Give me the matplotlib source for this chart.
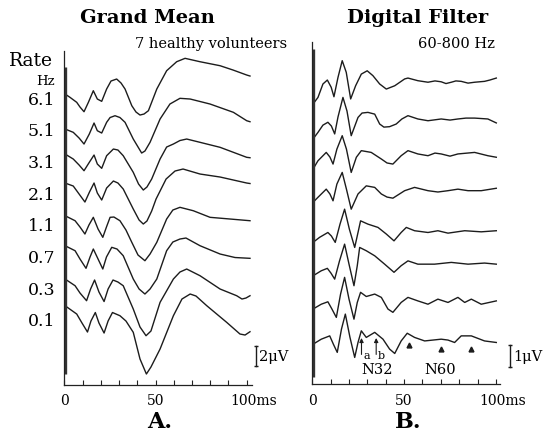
import matplotlib.pyplot as plt
import numpy as np

plt.rcParams['font.family'] = ['DejaVu Serif']

# ---- A. Grand mean, 7 healthy volunteers: (ms, uV) pairs per stimulus rate ----
rates = ['6.1', '5.1', '3.1', '2.1', '1.1', '0.7', '0.3', '0.1']

gm_61 = [(0.4, 0.0), (3.1, -0.33), (6.8, -0.83), (8.6, -1.3), (10.8, -1.77), (13.2, -0.83),
         (15.9, 0.33), (18.1, -0.5), (20.5, -0.73), (23.2, 0.5), (25.6, 1.3), (28.7, 1.5),
         (31.1, 1.1), (33.3, 0.5), (37.0, -1.17), (39.3, -1.8), (41.5, -2.1), (43.7, -2.0),
         (46.1, -1.67), (50.7, 0.5), (56.1, 2.33), (61.6, 3.23), (66.2, 3.57), (74.4, 3.23),
         (85.4, 2.83), (92.5, 2.4), (100.0, 1.9), (101.8, 1.8)]
gm_51 = [(0.4, -0.47), (4.9, -0.8), (8.1, -1.37), (10.8, -1.97), (13.7, -0.97), (16.3, 0.13),
         (18.1, -0.64), (20.5, -0.87), (23.2, 0.2), (25.1, 0.68), (27.8, 0.86), (30.5, 0.68),
         (33.3, 0.2), (37.8, -1.47), (42.4, -2.87), (44.2, -2.67), (47.0, -1.8), (52.5, 0.53),
         (57.9, 2.03), (63.4, 2.6), (69.0, 2.53), (79.9, 2.03), (92.7, 1.2), (100.0, 0.36),
         (101.8, 0.26)]
gm_31 = [(0.4, 0.06), (4.9, -0.44), (8.1, -1.04), (10.8, -1.61), (13.7, -0.77), (16.3, -0.04),
         (18.1, -0.94), (20.5, -1.37), (23.2, -0.11), (26.9, 0.56), (29.4, 0.46), (32.3, -0.11),
         (37.8, -1.77), (40.7, -2.94), (43.3, -3.54), (45.3, -3.24), (47.9, -2.44), (52.5, -0.44),
         (56.1, 0.76), (59.8, 1.06), (63.4, 1.41), (67.1, 1.56), (74.4, 1.23), (85.4, 0.73),
         (100.0, -0.27), (101.8, -0.31)]
gm_21 = [(0.4, 0.19), (4.9, -0.11), (8.1, -0.91), (11.3, -1.71), (13.8, -0.71), (16.3, 0.19),
         (18.1, -0.81), (20.5, -1.51), (23.2, -0.31), (26.9, 0.39), (29.4, 0.19), (32.3, -0.41),
         (37.8, -2.41), (41.0, -3.51), (43.3, -3.91), (45.3, -3.61), (47.9, -2.61), (50.3, -1.41),
         (55.8, 0.59), (60.7, 1.39), (65.1, 1.59), (74.4, 1.09), (85.4, 0.79), (100.0, 0.19),
         (101.8, 0.14)]
gm_11 = [(0.4, -0.05), (5.9, -0.55), (8.6, -1.18), (11.3, -1.88), (13.5, -0.98), (15.9, -0.21),
         (18.5, -1.38), (21.1, -2.21), (23.1, -1.18), (25.1, -0.21), (27.2, -0.18), (30.5, -0.55),
         (33.8, -1.48), (37.0, -2.71), (40.4, -3.98), (44.2, -4.55), (47.0, -3.88), (50.7, -2.71),
         (56.1, -0.38), (59.5, 0.52), (63.4, 0.79), (70.7, 0.45), (79.9, -0.21), (90.9, -0.38),
         (101.8, -0.55)]
gm_07 = [(0.4, -0.02), (5.9, -0.52), (8.6, -1.35), (11.9, -2.28), (14.1, -1.15), (15.9, -0.35),
         (18.5, -1.35), (21.1, -2.35), (23.1, -1.15), (26.0, -0.18), (28.9, -0.35), (32.3, -1.02),
         (37.8, -3.35), (41.0, -4.35), (44.2, -4.85), (47.0, -4.35), (50.7, -3.35), (56.1, -0.52),
         (59.5, 0.35), (63.4, 0.65), (66.7, 0.75), (74.4, -0.02), (85.4, -0.85), (93.6, -1.2),
         (101.8, -1.28)]
gm_03 = [(0.4, -0.32), (5.9, -0.99), (8.6, -1.72), (12.2, -2.49), (14.4, -1.32), (16.6, -0.42),
         (19.0, -1.62), (21.8, -2.57), (24.0, -1.32), (26.7, -0.42), (29.4, -0.62), (32.3, -0.99),
         (37.8, -3.32), (41.5, -5.12), (44.8, -5.99), (47.5, -5.52), (52.5, -2.65), (59.8, -0.32),
         (63.4, 0.38), (67.1, 0.68), (74.4, 0.01), (85.4, -1.32), (94.5, -1.99), (97.4, -2.32),
         (99.6, -2.22), (101.8, -1.99)]
gm_01 = [(0.4, 0.04), (6.8, -0.79), (9.7, -1.69), (12.7, -2.59), (14.6, -1.49), (17.0, -0.64),
         (19.0, -1.69), (21.8, -2.69), (24.0, -1.49), (26.4, -0.64), (30.5, -0.96), (33.8, -1.49),
         (37.8, -2.62), (41.5, -5.29), (45.0, -6.79), (47.5, -6.09), (52.5, -4.29), (59.8, -0.96),
         (64.5, 0.71), (69.0, 1.21), (72.2, 1.01), (78.1, 0.04), (89.0, -1.62), (96.3, -2.79),
         (99.1, -2.89), (101.8, -2.56)]

# ---- B. Digital filter 60-800 Hz, same rates ----
df_61 = [(0.4, 0.0), (3.1, 0.30), (5.8, 0.91), (8.2, 1.09), (10.3, 0.76), (11.8, 0.33), (14.0, 1.21),
         (16.3, 1.97), (18.5, 1.44), (20.9, 0.23), (23.6, 0.83), (26.7, 1.36), (29.9, 1.51),
         (33.0, 1.29), (36.7, 0.91), (40.3, 0.68), (44.9, 0.83), (50.3, 1.14), (52.1, 1.18),
         (57.5, 1.06), (63.0, 0.99), (66.8, 1.05), (70.2, 1.01), (72.8, 0.93), (75.7, 0.99),
         (78.2, 1.05), (81.1, 1.03), (84.8, 0.95), (88.4, 0.99), (93.8, 1.03), (96.7, 1.09),
         (100.2, 1.18)]
df_51 = [(0.4, -0.03), (3.1, 0.27), (5.8, 0.60), (8.5, 0.73), (10.4, 0.56), (12.2, 0.20), (14.0, 0.97),
         (16.7, 1.86), (18.9, 1.24), (21.2, 0.12), (24.9, 0.95), (27.1, 1.15), (30.3, 1.18),
         (34.0, 1.10), (36.7, 0.65), (39.0, 0.51), (42.1, 0.53), (45.7, 0.65), (48.8, 0.88),
         (52.1, 1.03), (57.5, 0.88), (63.0, 0.80), (70.2, 0.88), (75.0, 0.83), (79.3, 0.88),
         (83.7, 0.92), (88.4, 0.92), (95.6, 0.88), (100.2, 0.70)]
df_31 = [(0.4, 0.16), (3.1, 0.54), (7.6, 0.92), (9.6, 0.71), (11.3, 0.39), (13.4, 1.07), (16.3, 1.68),
         (18.6, 1.07), (21.2, 0.01), (24.0, 0.70), (26.7, 1.00), (32.1, 0.92), (37.6, 0.62),
         (40.7, 0.44), (43.9, 0.39), (48.4, 0.77), (52.1, 1.00), (57.5, 0.85), (63.0, 0.77),
         (66.8, 0.89), (70.2, 0.85), (75.0, 0.75), (79.3, 0.85), (88.4, 0.92), (95.6, 0.77),
         (100.2, 0.70)]
df_21 = [(0.4, 0.21), (3.1, 0.44), (7.6, 0.81), (9.6, 0.59), (11.3, 0.28), (13.4, 1.04), (16.3, 1.57),
         (18.6, 0.81), (21.2, -0.10), (24.9, 0.59), (29.4, 0.96), (34.0, 0.89), (37.6, 0.59),
         (40.7, 0.45), (43.9, 0.40), (50.3, 0.74), (55.7, 0.89), (63.0, 0.74), (68.4, 0.68),
         (73.9, 0.74), (79.3, 0.81), (84.8, 0.74), (92.0, 0.74), (100.2, 0.85)]
df_11 = [(0.4, -0.05), (4.0, 0.18), (8.5, 0.40), (10.4, 0.24), (12.5, -0.05), (15.1, 0.78),
         (17.6, 1.46), (20.2, 0.55), (23.1, -0.28), (24.9, 0.40), (26.3, 0.93), (30.3, 0.78),
         (35.8, 0.63), (40.3, 0.33), (44.5, 0.02), (48.4, 0.40), (51.2, 0.63), (55.7, 0.48),
         (63.0, 0.40), (68.4, 0.48), (73.9, 0.37), (83.0, 0.48), (92.0, 0.43), (100.2, 0.48)]
df_07 = [(0.4, -0.01), (4.9, 0.22), (8.2, 0.33), (10.2, 0.11), (12.2, -0.16), (14.8, 0.66),
         (17.6, 1.43), (20.0, 0.52), (22.7, -0.46), (24.5, 0.45), (25.8, 1.28), (29.4, 1.13),
         (34.0, 0.90), (39.4, 0.52), (44.5, 0.15), (48.4, 0.45), (52.1, 0.67), (57.5, 0.52),
         (66.6, 0.52), (75.7, 0.60), (84.8, 0.52), (93.8, 0.57), (100.2, 0.52)]
df_03 = [(0.4, 0.04), (4.9, 0.26), (8.5, 0.37), (10.7, 0.04), (13.1, -0.34), (15.4, 0.72),
         (17.6, 1.48), (20.0, 0.49), (22.7, -0.42), (24.5, 0.34), (26.3, 0.80), (29.4, 0.61),
         (34.0, 0.72), (37.6, 0.57), (41.2, 0.04), (43.9, -0.11), (48.4, 0.34), (52.1, 0.57),
         (57.5, 0.41), (63.0, 0.26), (68.4, 0.49), (73.9, 0.34), (79.3, 0.57), (83.0, 0.34),
         (86.6, 0.49), (92.0, 0.26), (100.2, 0.41)]
df_01 = [(0.4, 0.0), (4.9, 0.23), (9.5, 0.38), (11.5, 0.0), (13.6, -0.37), (15.9, 0.69), (18.0, 1.37),
         (20.5, 0.32), (23.1, -0.60), (24.9, 0.08), (26.7, 0.61), (29.4, 0.31), (31.4, 0.41),
         (34.0, 0.54), (38.5, 0.23), (42.1, -0.22), (44.9, -0.42), (48.4, 0.15), (51.7, 0.50),
         (55.7, 0.31), (61.2, 0.15), (70.2, 0.23), (73.9, 0.19), (77.5, 0.08), (81.1, 0.38),
         (86.6, 0.38), (93.8, 0.15), (100.2, 0.08)]

# marked components on the 0.1 Hz filtered trace
n32_latencies = [26.8, 34.8]
n32_letters = ['a', 'b']
n60_marks = [52.9, 70.2, 86.5]

grand_mean = [gm_61, gm_51, gm_31, gm_21, gm_11, gm_07, gm_03, gm_01]
filtered = [df_61, df_51, df_31, df_21, df_11, df_07, df_03, df_01]

ink = '#1c1c1c'
stepA = 3.03   # vertical spacing between traces (uV)
stepB = 1.56

fig = plt.figure(figsize=(5.53, 4.35), dpi=100)
axA = fig.add_axes([0.1163, 0.1126, 0.3394, 0.7678])
axB = fig.add_axes([0.5647, 0.1138, 0.3394, 0.7874])

for k, tr in enumerate(grand_mean):
    t, v = np.array(tr).T
    axA.plot(t, v - stepA * k, color=ink, lw=1.0, solid_joinstyle='round')
for k, tr in enumerate(filtered):
    t, v = np.array(tr).T
    axB.plot(t, v - stepB * k, color=ink, lw=1.0, solid_joinstyle='round')

axA.set_xlim(0, 102.9)
axA.set_ylim(-29.1, 4.3)
axB.set_xlim(0, 102.2)
axB.set_ylim(-12.75, 2.82)

for ax in (axA, axB):
    for s in ('top', 'right'):
        ax.spines[s].set_visible(False)
    for s in ('left', 'bottom'):
        ax.spines[s].set_linewidth(0.9)
        ax.spines[s].set_color('#222222')
    ax.set_yticks([])
    ax.set_xticks([0, 50, 100])
    ax.set_xticklabels(['0', '50', ''])
    ax.set_xticks(np.arange(10, 101, 10), minor=True)
    ax.tick_params(axis='x', which='both', direction='in', length=3.5, width=0.8,
                   color='#222222', pad=6, labelsize=10)
    ax.annotate('100ms', xy=(100, 0), xycoords=('data', 'axes fraction'),
                xytext=(-12, -6), textcoords='offset points', ha='left', va='top', fontsize=10)

# stimulus artefact at time zero
axA.plot([0.4, 0.4], [2.7, -28.0], color='#333333', lw=2.4, solid_capstyle='butt')
axB.plot([0.4, 0.4], [2.5, -12.4], color='#333333', lw=2.4, solid_capstyle='butt')

# rate labels
axA.text(-6.2, 3.4, 'Rate', ha='right', va='center', fontsize=13.5)
axA.text(-5.0, 1.4, 'Hz', ha='right', va='center', fontsize=9.5)
for k, r in enumerate(rates):
    axA.text(-5.0, -0.5 - 3.17 * k, r, ha='right', va='center', fontsize=12.5)

# calibration bars
axA.plot([105.1, 105.1], [-25.2, -27.2], color=ink, lw=1.0, marker='_', ms=3, clip_on=False)
axA.text(106.5, -26.2, '2\u03bcV', ha='left', va='center', fontsize=10.5)
axB.plot([107.6, 107.6], [-10.95, -11.95], color=ink, lw=1.0, marker='_', ms=3, clip_on=False)
axB.text(109.2, -11.45, '1\u03bcV', ha='left', va='center', fontsize=10.5)

# component markers on bottom filtered trace
base = -stepB * 7
for lat, let in zip(n32_latencies, n32_letters):
    axB.annotate('', xy=(lat, base + 0.41), xytext=(lat, base - 0.59),
                 arrowprops=dict(arrowstyle='-|>', lw=0.8, color=ink, mutation_scale=6))
    axB.text(lat + 1.0, base - 0.5, let, ha='left', va='center', fontsize=8)
axB.text(35.1, base - 1.13, 'N32', ha='center', va='center', fontsize=10.5)
axB.text(69.5, base - 1.13, 'N60', ha='center', va='center', fontsize=10.5)
axB.plot(n60_marks, [base - 0.04, base - 0.22, base - 0.22], linestyle='none',
         marker='^', ms=3.5, color=ink)

# titles and panel letters
fig.text(0.2667, 0.9575, 'Grand Mean', ha='center', va='center', fontsize=14, fontweight='bold')
fig.text(0.519, 0.8989, '7 healthy volunteers', ha='right', va='center', fontsize=10.5)
fig.text(0.7559, 0.9575, 'Digital Filter', ha='center', va='center', fontsize=14, fontweight='bold')
fig.text(0.895, 0.8989, '60-800 Hz', ha='right', va='center', fontsize=10.5)
fig.text(0.2893, 0.004, 'A.', ha='center', va='bottom', fontsize=16, fontweight='bold')
fig.text(0.7378, 0.004, 'B.', ha='center', va='bottom', fontsize=16, fontweight='bold')

plt.savefig('out.png', dpi=100)
